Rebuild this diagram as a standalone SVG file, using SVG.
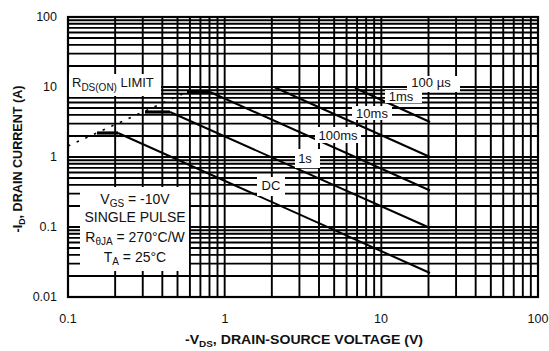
<svg xmlns="http://www.w3.org/2000/svg" width="549" height="351" viewBox="0 0 549 351">
<style>
text{font-family:"Liberation Sans",Arial,sans-serif;fill:#111}
.tick{font-size:12.5px}
.ttl{font-size:13.5px;font-weight:bold}
.lbl{font-size:13px}
.box{font-size:14px}
.grid{stroke:#000;stroke-width:1.9;fill:none}
.frame{stroke:#000;stroke-width:2.2;fill:none}
.soa{stroke:#000;stroke-width:2;fill:none}
.lim{stroke:#000;stroke-width:3.2;fill:none}
.rds{stroke:#000;stroke-width:1.6;fill:none;stroke-dasharray:2.5 7}
.wb{fill:#fff}
</style>
<rect width="549" height="351" fill="#fff"/>
<g id="grid">
<path class="grid" d="M115.16 17V297M142.75 17V297M162.33 17V297M177.51 17V297M189.91 17V297M200.4 17V297M209.49 17V297M217.5 17V297M224.67 17V297M271.83 17V297M299.42 17V297M319 17V297M334.18 17V297M346.58 17V297M357.07 17V297M366.16 17V297M374.17 17V297M381.33 17V297M428.49 17V297M456.08 17V297M475.66 17V297M490.84 17V297M503.24 17V297M513.73 17V297M522.82 17V297M530.83 17V297"/>
<path class="grid" d="M68 275.93H538M68 263.6H538M68 254.86H538M68 248.07H538M68 242.53H538M68 237.84H538M68 233.78H538M68 230.2H538M68 227H538M68 205.93H538M68 193.6H538M68 184.86H538M68 178.07H538M68 172.53H538M68 167.84H538M68 163.78H538M68 160.2H538M68 157H538M68 135.93H538M68 123.6H538M68 114.86H538M68 108.07H538M68 102.53H538M68 97.84H538M68 93.78H538M68 90.2H538M68 87H538M68 65.93H538M68 53.6H538M68 44.86H538M68 38.07H538M68 32.53H538M68 27.84H538M68 23.78H538M68 20.2H538"/>
<rect class="frame" x="68" y="17" width="470" height="280"/>
</g>
<g id="curves">
<path class="rds" d="M68 146L187 92"/>
<path class="lim" d="M187 92H210"/>
<path class="soa" d="M210 92L430 190.5"/>
<path class="lim" d="M145 112H170"/>
<path class="soa" d="M170 112L430 228"/>
<path class="lim" d="M97 133H118"/>
<path class="soa" d="M118 133L430 273"/>
<path class="soa" d="M275 87.5L430 157"/>
<path class="soa" d="M355 88L430 122"/>
</g>
<g id="label-rds">
<rect class="wb" x="69" y="74" width="92" height="22"/>
<text class="lbl" x="72" y="87">R<tspan font-size="10" dy="4">DS(ON)</tspan><tspan dy="-4"> LIMIT</tspan></text>
</g>
<g id="label-100us">
<rect class="wb" x="407" y="76" width="53" height="16"/>
<text class="lbl" x="431" y="87" text-anchor="middle">100 µs</text>
</g>
<g id="label-1ms">
<rect class="wb" x="385" y="90" width="37" height="13"/>
<text class="lbl" x="401" y="101" text-anchor="middle">1ms</text>
</g>
<g id="label-10ms">
<rect class="wb" x="352" y="106" width="40" height="14"/>
<text class="lbl" x="372" y="117.5" text-anchor="middle">10ms</text>
</g>
<g id="label-100ms">
<rect class="wb" x="315" y="127" width="46" height="16"/>
<text class="lbl" x="338" y="139.5" text-anchor="middle">100ms</text>
</g>
<g id="label-1s">
<rect class="wb" x="295" y="149" width="25" height="19"/>
<text class="lbl" x="305" y="163" text-anchor="middle">1s</text>
</g>
<g id="label-dc">
<rect class="wb" x="257" y="177" width="28" height="19"/>
<text class="lbl" x="271" y="190" text-anchor="middle">DC</text>
</g>
<g id="conditions">
<rect class="wb" x="80" y="187" width="109" height="84"/>
<text class="box" x="135" y="203.5" text-anchor="middle">V<tspan font-size="10" dy="3">GS</tspan><tspan dy="-3"> = -10V</tspan></text>
<text class="box" x="135" y="222" text-anchor="middle">SINGLE PULSE</text>
<text class="box" x="135" y="242" text-anchor="middle">R<tspan font-size="10" dy="3">θJA</tspan><tspan dy="-3"> = 270°C/W</tspan></text>
<text class="box" x="135" y="262" text-anchor="middle">T<tspan font-size="10" dy="3">A</tspan><tspan dy="-3"> = 25°C</tspan></text>
</g>
<g id="y-axis">
<text class="tick" x="57" y="21" text-anchor="end">100</text>
<text class="tick" x="57" y="91" text-anchor="end">10</text>
<text class="tick" x="57" y="161" text-anchor="end">1</text>
<text class="tick" x="57" y="231" text-anchor="end">0.1</text>
<text class="tick" x="57" y="301" text-anchor="end">0.01</text>
<text class="ttl" transform="translate(22 159) rotate(-90)" text-anchor="middle" textLength="147" lengthAdjust="spacingAndGlyphs">-I<tspan font-size="9.5" dy="3">D</tspan><tspan dy="-3">, DRAIN CURRENT (A)</tspan></text>
</g>
<g id="x-axis">
<text class="tick" x="68" y="323" text-anchor="middle">0.1</text>
<text class="tick" x="225" y="323" text-anchor="middle">1</text>
<text class="tick" x="381" y="323" text-anchor="middle">10</text>
<text class="tick" x="538" y="323" text-anchor="middle">100</text>
<text class="ttl" x="304" y="344" text-anchor="middle" textLength="238" lengthAdjust="spacingAndGlyphs">-V<tspan font-size="9.5" dy="3">DS</tspan><tspan dy="-3">, DRAIN-SOURCE VOLTAGE (V)</tspan></text>
</g>
</svg>
